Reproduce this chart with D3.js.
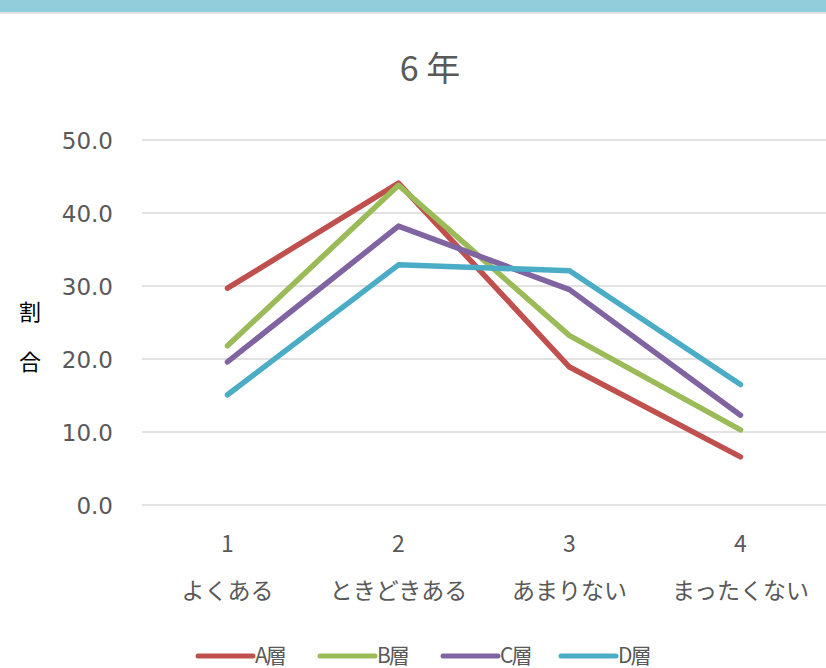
<!DOCTYPE html>
<html>
<head>
<meta charset="utf-8">
<script src="https://cdn.jsdelivr.net/npm/d3@7"></script>
<style>
  body { margin: 0; background: #fff; }
  svg { display: block; font-family: "Noto Sans CJK JP", "Noto Sans", sans-serif; }
</style>
</head>
<body>
<svg id="chart" width="826" height="668"></svg>
<script>
const categories = ["1", "2", "3", "4"];
const categoryNames = ["よくある", "ときどきある", "あまりない", "まったくない"];
const seriesNames = ["A層", "B層", "C層", "D層"];
const valuesA = [29.7, 44.1, 18.9, 6.6];
const valuesB = [21.8, 43.8, 23.2, 10.3];
const valuesC = [19.6, 38.2, 29.5, 12.3];
const valuesD = [15.1, 32.9, 32.1, 16.5];
const yTicks = [0, 10, 20, 30, 40, 50];
const colors = ["#C0504D", "#9BBB59", "#8064A2", "#4BACC6"];

const series = [valuesA, valuesB, valuesC, valuesD].map((v, i) => ({ name: seriesNames[i], values: v, color: colors[i] }));

const svg = d3.select("#chart");
const width = 826, height = 668;
const margin = { top: 140, right: 0, bottom: 163, left: 142 };

// top band
svg.append("rect").attr("x", 0).attr("y", 0).attr("width", width).attr("height", 12).attr("fill", "#92CDDC");
svg.append("rect").attr("x", 0).attr("y", 12).attr("width", width).attr("height", 2).attr("fill", "#E2E2E2");

svg.append("text")
  .attr("x", 430).attr("y", 81)
  .attr("text-anchor", "middle")
  .attr("fill", "#595959")
  .attr("font-size", 34)
  .text("6 年");

const x = d3.scaleBand()
  .domain(categories)
  .range([margin.left, width - margin.right]);

const y = d3.scaleLinear()
  .domain([0, 50])
  .range([height - margin.bottom, margin.top]);

// gridlines
svg.append("g")
  .selectAll("line")
  .data(yTicks)
  .join("line")
    .attr("x1", margin.left)
    .attr("x2", width)
    .attr("y1", d => y(d))
    .attr("y2", d => y(d))
    .attr("stroke", "#D9D9D9")
    .attr("stroke-width", 1.5);

// y axis labels
const yAxis = d3.axisLeft(y).tickValues(yTicks).tickFormat(d3.format(".1f")).tickSize(0).tickPadding(29);
svg.append("g")
  .attr("transform", `translate(${margin.left},0)`)
  .call(yAxis)
  .call(g => g.select(".domain").remove())
  .call(g => g.selectAll("text")
    .attr("fill", "#595959")
    .attr("font-size", 23)
    .attr("dy", "0.36em")
    .attr("font-family", "Verdana, 'DejaVu Sans', sans-serif"));

// y axis title
svg.append("text").attr("x", 30).attr("y", 320).attr("text-anchor", "middle")
  .attr("font-size", 22).attr("fill", "#000").text("割");
svg.append("text").attr("x", 30).attr("y", 370).attr("text-anchor", "middle")
  .attr("font-size", 22).attr("fill", "#000").text("合");

// x labels
svg.append("g")
  .selectAll("text")
  .data(categories)
  .join("text")
    .attr("x", d => x(d) + x.bandwidth() / 2)
    .attr("y", 552)
    .attr("text-anchor", "middle")
    .attr("fill", "#595959")
    .attr("font-size", 23)
    .text(d => d);

svg.append("g")
  .selectAll("text")
  .data(categories)
  .join("text")
    .attr("x", d => x(d) + x.bandwidth() / 2)
    .attr("y", 599)
    .attr("text-anchor", "middle")
    .attr("fill", "#595959")
    .attr("font-size", 23)
    .text((d, i) => categoryNames[i]);

// lines
const line = d3.line()
  .x((d, i) => x(categories[i]) + x.bandwidth() / 2)
  .y(d => y(d));

svg.append("g")
  .selectAll("path")
  .data(series)
  .join("path")
    .attr("d", d => line(d.values))
    .attr("fill", "none")
    .attr("stroke", d => d.color)
    .attr("stroke-width", 5.5)
    .attr("stroke-linecap", "round")
    .attr("stroke-linejoin", "round");

// legend
const legendX = [198, 320, 443, 561];
const legend = svg.append("g")
  .selectAll("g")
  .data(series)
  .join("g")
    .attr("transform", (d, i) => `translate(${legendX[i]},656)`);

legend.append("line")
  .attr("x1", 0).attr("x2", 55)
  .attr("stroke", d => d.color)
  .attr("stroke-width", 5)
  .attr("stroke-linecap", "round");

legend.append("text")
  .attr("x", 57).attr("y", 7)
  .attr("fill", "#595959")
  .attr("font-size", 21)
  .attr("letter-spacing", -2)
  .text(d => d.name);
</script>
</body>
</html>
